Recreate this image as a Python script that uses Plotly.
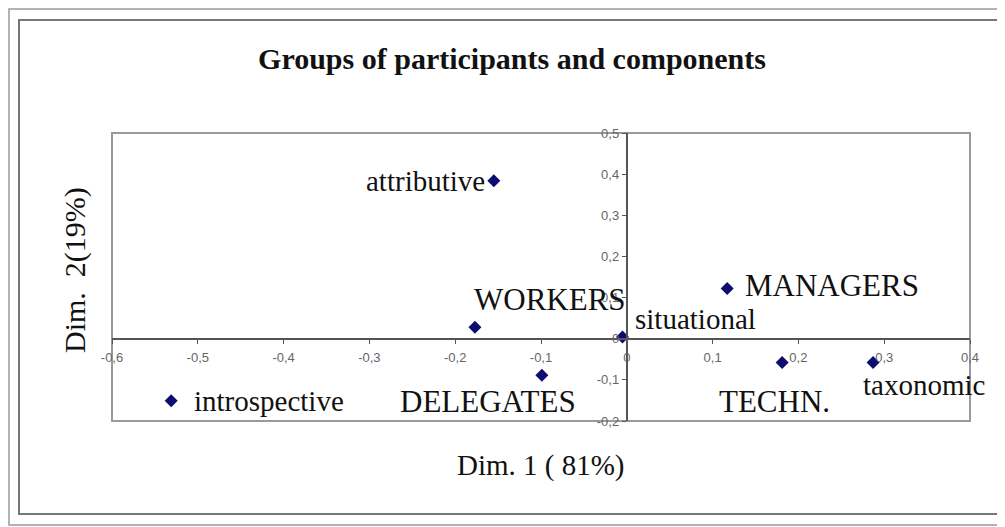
import plotly.graph_objects as go

# ---- data ----
labels = ["attributive", "WORKERS", "DELEGATES", "introspective",
          "situational", "MANAGERS", "TECHN.", "taxonomic"]
dim1 = [-0.155, -0.177, -0.099, -0.531, -0.005, 0.117, 0.181, 0.287]
dim2 = [0.384, 0.028, -0.089, -0.151, 0.004, 0.122, -0.058, -0.058]

x_ticks = [-0.6, -0.5, -0.4, -0.3, -0.2, -0.1, 0, 0.1, 0.2, 0.3, 0.4]
x_tick_labels = ["-0,6", "-0,5", "-0,4", "-0,3", "-0,2", "-0,1", "0", "0,1", "0,2", "0,3", "0,4"]
y_ticks = [-0.2, -0.1, 0, 0.1, 0.2, 0.3, 0.4, 0.5]
y_tick_labels = ["-0,2", "-0,1", "0", "0,1", "0,2", "0,3", "0,4", "0,5"]

title_text = "Groups of participants and components"
x_title = "Dim. 1 ( 81%)"
y_title = "Dim.  2(19%)"

# ---- label styling (anchor, pixel offsets, size) ----
label_style = {
    "attributive":   dict(xanchor="right",  xshift=-7,  yshift=0,   size=29),
    "WORKERS":       dict(xanchor="left",   xshift=-3,  yshift=28,  size=31),
    "DELEGATES":     dict(xanchor="center", xshift=-54, yshift=-26, size=31),
    "introspective": dict(xanchor="left",   xshift=21,  yshift=0,   size=29),
    "situational":   dict(xanchor="left",   xshift=10,  yshift=18,  size=29),
    "MANAGERS":      dict(xanchor="left",   xshift=16,  yshift=3,   size=31),
    "TECHN.":        dict(xanchor="center", xshift=-8,  yshift=-39, size=31),
    "taxonomic":     dict(xanchor="left",   xshift=-12, yshift=-22, size=29),
}

x_range = [-0.6, 0.4]
y_range = [-0.2, 0.5]

serif = "Liberation Serif, Times New Roman, serif"

# page body has an 8px margin; figure coords = reference coords - 8
OFF = 8
W, H = 1005 - OFF, 527 - OFF
PL, PR, PT, PB = 112, 970, 133, 421  # plot-area edges in reference pixels
PW, PH = PR - PL, PB - PT

fig = go.Figure()
fig.add_trace(go.Scatter(
    x=dim1, y=dim2, mode="markers",
    marker=dict(symbol="diamond", size=10, color="#0d0d70"),
    hoverinfo="skip", showlegend=False,
))

annotations = []
for name, xv, yv in zip(labels, dim1, dim2):
    st = label_style[name]
    annotations.append(dict(
        x=xv, y=yv, xref="x", yref="y", text=name, showarrow=False,
        xanchor=st["xanchor"], yanchor="middle",
        xshift=st["xshift"], yshift=st["yshift"],
        font=dict(family=serif, size=st["size"], color="#111111"),
    ))

# axis titles
annotations.append(dict(
    x=(541 - PL) / PW, y=(PB - 465) / PH, xref="paper", yref="paper",
    text=x_title, showarrow=False, xanchor="center", yanchor="middle",
    font=dict(family=serif, size=29, color="#111111"),
))
annotations.append(dict(
    x=(75 - PL) / PW, y=(PB - 270) / PH, xref="paper", yref="paper",
    text=y_title, showarrow=False, xanchor="center", yanchor="middle",
    textangle=-90, font=dict(family=serif, size=30, color="#111111"),
))

x_pos = (0 - x_range[0]) / (x_range[1] - x_range[0])
y_pos = (0 - y_range[0]) / (y_range[1] - y_range[0])

tick_font = dict(family="Liberation Sans, Arial, sans-serif", size=13, color="#666666")

def px_x(v):
    return (v - PL) / PW

def px_y(v):
    return (PB - v) / PH

fig.update_layout(
    width=W, height=H,
    margin=dict(l=PL - OFF, r=W - (PR - OFF), t=PT - OFF, b=H - (PB - OFF)),
    paper_bgcolor="white", plot_bgcolor="white",
    title=dict(text="<b>" + title_text + "</b>", x=(512 - OFF) / W, xref="container",
               y=1 - (58 - OFF) / H, yref="container", xanchor="center", yanchor="middle",
               font=dict(family=serif, size=30, color="#111111")),
    xaxis=dict(range=x_range, anchor="free", position=y_pos,
               showgrid=False, zeroline=False,
               showline=True, linecolor="#555555", linewidth=2,
               ticks="outside", ticklen=4, tickcolor="#555555", tickwidth=1,
               ticklabelstandoff=3,
               tickvals=x_ticks, ticktext=x_tick_labels, tickfont=tick_font),
    yaxis=dict(range=y_range, anchor="free", position=x_pos,
               showgrid=False, zeroline=False,
               showline=True, linecolor="#555555", linewidth=2,
               ticks="outside", ticklen=4, tickcolor="#555555", tickwidth=1,
               tickvals=y_ticks, ticktext=y_tick_labels, tickfont=tick_font),
    annotations=annotations,
    shapes=[
        # plot-area border
        dict(type="rect", xref="paper", yref="paper", x0=0, x1=1, y0=0, y1=1,
             line=dict(color="#9a9a9a", width=2), layer="below"),
        # chart-area border
        dict(type="rect", xref="paper", yref="paper",
             x0=px_x(19), x1=px_x(1001), y0=px_y(514), y1=px_y(20),
             line=dict(color="#777777", width=2), layer="below"),
        # outer frame
        dict(type="rect", xref="paper", yref="paper",
             x0=px_x(9), x1=px_x(1003), y0=px_y(525), y1=px_y(9),
             line=dict(color="#9a9a9a", width=1.5), layer="below"),
    ],
)

fig.write_html("out.html")
